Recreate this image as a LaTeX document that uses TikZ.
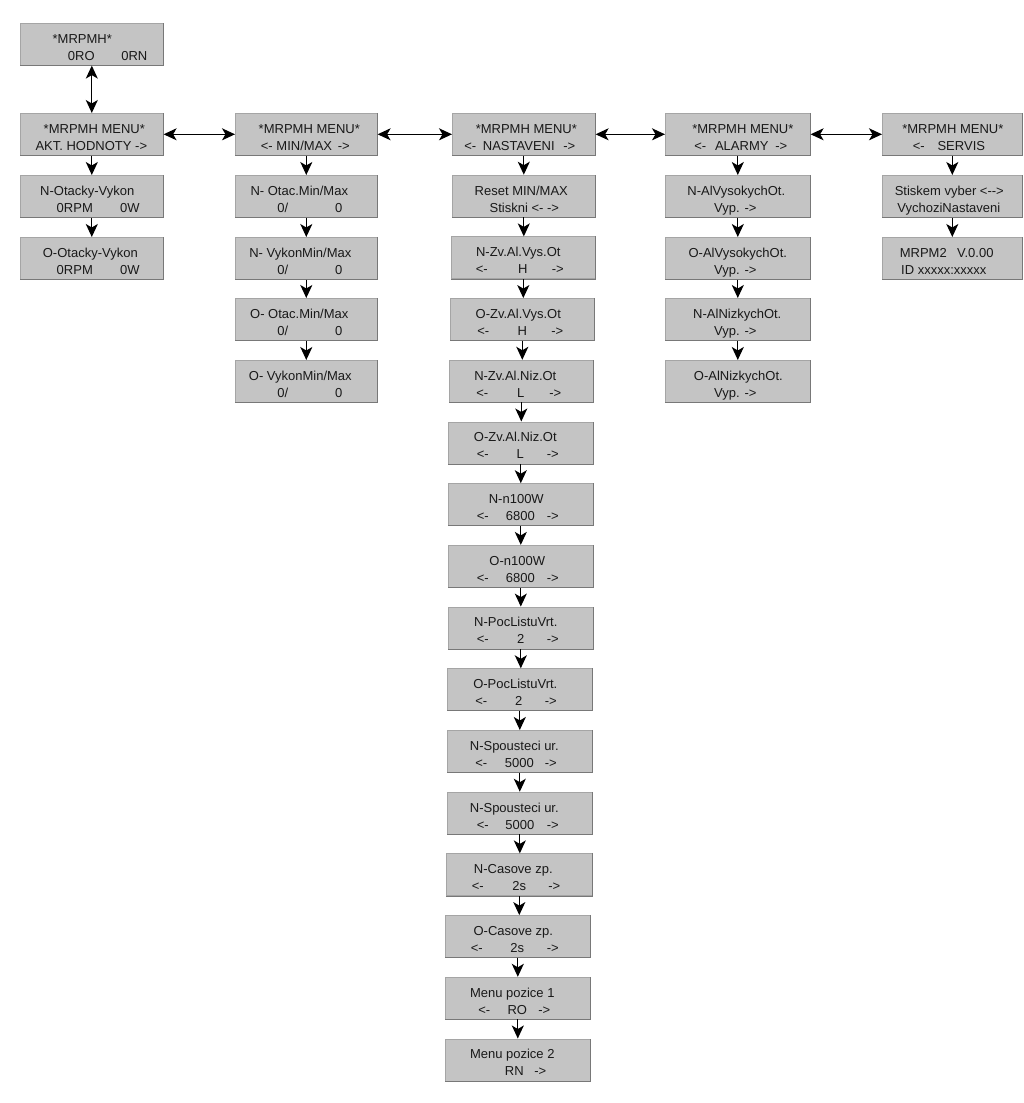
\documentclass[tikz,border=0pt]{standalone}
\usepackage{fontspec}
\setmainfont{Liberation Sans}
\usetikzlibrary{arrows.meta}
\definecolor{boxfill}{RGB}{196,196,196}
\definecolor{boxdark}{RGB}{120,120,120}
\definecolor{boxlite}{RGB}{165,165,165}
\definecolor{txt}{RGB}{25,25,25}
\newcommand\sg[2]{\rlap{\kern#1pt\makebox[0pt]{#2}}}
\newcommand\menubox[6]{%
  \node[mbox, minimum width=#4pt, anchor=north west] (#1) at (#2pt,-#3pt)
  {\vbox to 42pt{\offinterlineskip\kern20pt\hbox to #4pt{\smash{#5}\hss}\kern17pt\hbox to #4pt{\smash{#6}\hss}\vss}};}
\tikzset{
  mbox/.style={rectangle, fill=boxfill, draw=boxlite, line width=0.6pt, inner sep=0pt,
    minimum height=42pt, font=\fontsize{13}{16}\selectfont, text=txt},
  tip/.tip={Stealth[length=13pt,width=12pt,inset=3.5pt]},
  arr/.style={-tip, line width=1.3pt, black},
  darr/.style={tip-tip, line width=1.3pt, black}
}
\begin{document}
\begin{tikzpicture}[x=1pt,y=1pt]
\useasboundingbox[fill=white] (0,0) rectangle (1024,-1103);
% column 1
\menubox{c1t}{20}{23}{143}{\sg{62}{*MRPMH*}}{\sg{61}{0RO}\sg{114}{0RN}}
\menubox{c1m}{20}{113}{143}{\sg{74}{*MRPMH MENU*}}{\sg{71}{AKT. HODNOTY ->}}
\menubox{c1a}{20}{175}{143}{\sg{67}{N-Otacky-Vykon}}{\sg{54.5}{0RPM}\sg{109.5}{0W}}
\menubox{c1b}{20}{237}{143}{\sg{70}{O-Otacky-Vykon}}{\sg{54.5}{0RPM}\sg{109.5}{0W}}
% column 2
\menubox{c2m}{235}{113}{142}{\sg{74}{*MRPMH MENU*}}{\sg{31.5}{<-}\sg{69}{MIN/MAX}\sg{108.5}{->}}
\menubox{c2a}{235}{175}{142}{\sg{64}{N- Otac.Min/Max}}{\sg{47.5}{0/}\sg{103.5}{0}}
\menubox{c2b}{235}{237}{142}{\sg{65}{N- VykonMin/Max}}{\sg{47.5}{0/}\sg{103.5}{0}}
\menubox{c2c}{235}{298}{142}{\sg{64}{O- Otac.Min/Max}}{\sg{47.5}{0/}\sg{103.5}{0}}
\menubox{c2d}{235}{360}{142}{\sg{65}{O- VykonMin/Max}}{\sg{47.5}{0/}\sg{103.5}{0}}
% column 3
\menubox{k0}{452}{113}{143}{\sg{74}{*MRPMH MENU*}}{\sg{18}{<-}\sg{66.5}{NASTAVENI}\sg{117}{->}}
\menubox{k1}{452}{174.7}{143}{\sg{69}{Reset MIN/MAX}}{\sg{72}{Stiskni <- ->}}
\menubox{k2}{451}{236.4}{144}{\sg{67}{N-Zv.Al.Vys.Ot}}{\sg{30.5}{<-}\sg{71.5}{H}\sg{106.5}{->}}
\menubox{k3}{450}{298.1}{144}{\sg{68}{O-Zv.Al.Vys.Ot}}{\sg{33}{<-}\sg{72}{H}\sg{107}{->}}
\menubox{k4}{449}{359.8}{144}{\sg{66}{N-Zv.Al.Niz.Ot}}{\sg{33}{<-}\sg{71.5}{L}\sg{106}{->}}
\menubox{k5}{448}{421.5}{145}{\sg{67}{O-Zv.Al.Niz.Ot}}{\sg{34.5}{<-}\sg{72}{L}\sg{104.5}{->}}
\menubox{k6}{448}{483.2}{145}{\sg{68}{N-n100W}}{\sg{34.5}{<-}\sg{72}{6800}\sg{104.5}{->}}
\menubox{k7}{448}{544.9}{145}{\sg{69}{O-n100W}}{\sg{34.5}{<-}\sg{72}{6800}\sg{104.5}{->}}
\menubox{k8}{448}{606.6}{145}{\sg{67.5}{N-PocListuVrt.}}{\sg{34.5}{<-}\sg{72.5}{2}\sg{104.5}{->}}
\menubox{k9}{447}{668.3}{145}{\sg{68}{O-PocListuVrt.}}{\sg{34}{<-}\sg{71.5}{2}\sg{103.5}{->}}
\menubox{k10}{447}{730}{145}{\sg{67}{N-Spousteci ur.}}{\sg{34}{<-}\sg{72}{5000}\sg{103.5}{->}}
\menubox{k11}{447}{791.7}{145}{\sg{67}{N-Spousteci ur.}}{\sg{35.5}{<-}\sg{72.5}{5000}\sg{105.5}{->}}
\menubox{k12}{446}{853.4}{146}{\sg{67}{N-Casove zp.}}{\sg{31.5}{<-}\sg{73}{2s}\sg{108}{->}}
\menubox{k13}{445}{915.1}{145}{\sg{68}{O-Casove zp.}}{\sg{31.5}{<-}\sg{72}{2s}\sg{107.5}{->}}
\menubox{k14}{445}{976.8}{145}{\sg{67}{Menu pozice 1}}{\sg{39}{<-}\sg{72}{RO}\sg{99}{->}}
\menubox{k15}{445}{1038.5}{145}{\sg{67}{Menu pozice 2}}{\sg{69}{RN}\sg{95}{->}}
% column 4
\menubox{c4m}{665}{113}{145}{\sg{77.5}{*MRPMH MENU*}}{\sg{35}{<-}\sg{76.5}{ALARMY}\sg{116}{->}}
\menubox{c4a}{665}{175}{145}{\sg{71}{N-AlVysokychOt.}}{\sg{70}{Vyp. ->}}
\menubox{c4b}{665}{237}{145}{\sg{72.5}{O-AlVysokychOt.}}{\sg{70}{Vyp. ->}}
\menubox{c4c}{665}{298}{145}{\sg{72}{N-AlNizkychOt.}}{\sg{70}{Vyp. ->}}
\menubox{c4d}{665}{360}{145}{\sg{73}{O-AlNizkychOt.}}{\sg{70}{Vyp. ->}}
% column 5
\menubox{c5m}{882}{113}{140}{\sg{70.5}{*MRPMH MENU*}}{\sg{36.5}{<-}\sg{79}{SERVIS}}
\menubox{c5a}{882}{175}{140}{\sg{67}{Stiskem vyber <-{}-{}>}}{\sg{66.5}{VychoziNastaveni}}
\menubox{c5b}{882}{237}{140}{\sg{41}{MRPM2}\sg{93}{V.0.00}}{\sg{61.5}{ID xxxxx:xxxxx}}
% shaded lower/right edges
\foreach \n in {c1t,c1m,c1a,c1b,c2m,c2a,c2b,c2c,c2d,k0,k1,k2,k3,k4,k5,k6,k7,k8,k9,k10,k11,k12,k13,k14,k15,c4m,c4a,c4b,c4c,c4d,c5m,c5a,c5b}
  \draw[boxdark, line width=1pt] (\n.south west) -- (\n.south east) -- (\n.north east);
% connectors
\draw[darr] (c1t.south) -- (c1m.north);
\draw[darr] (c1m.east) -- (c2m.west);
\draw[darr] (c2m.east) -- (k0.west);
\draw[darr] (k0.east) -- (c4m.west);
\draw[darr] (c4m.east) -- (c5m.west);
\foreach \a/\b in {c1m/c1a,c1a/c1b,c2m/c2a,c2a/c2b,c2b/c2c,c2c/c2d,
  k0/k1,k1/k2,k2/k3,k3/k4,k4/k5,k5/k6,k6/k7,k7/k8,k8/k9,k9/k10,k10/k11,k11/k12,k12/k13,k13/k14,k14/k15,
  c4m/c4a,c4a/c4b,c4b/c4c,c4c/c4d,c5m/c5a,c5a/c5b}
  \draw[arr] (\a.south) -- (\a.south |- \b.north);
\end{tikzpicture}
\end{document}
